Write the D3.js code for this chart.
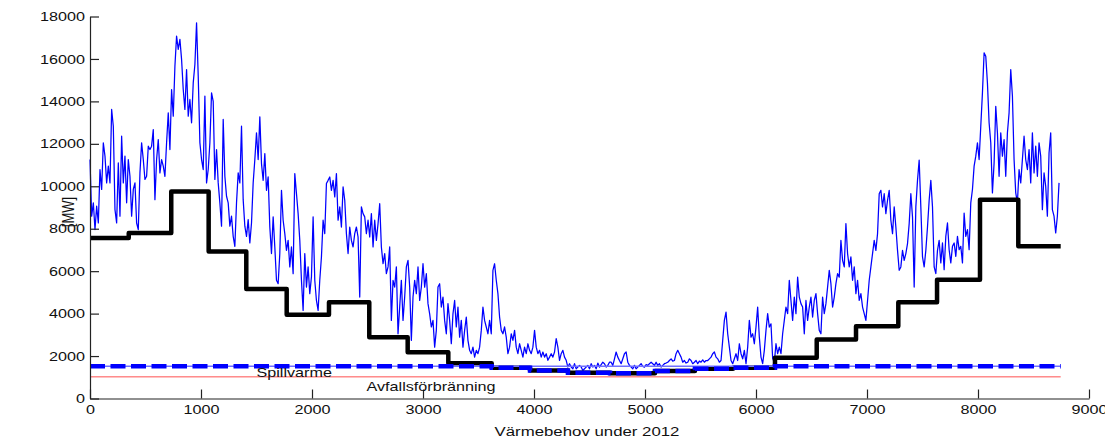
<!DOCTYPE html>
<html>
<head>
<meta charset="utf-8">
<script src="https://cdn.jsdelivr.net/npm/d3@7"></script>
<style>
  html, body { margin: 0; padding: 0; background: #fff; }
  svg { display: block; }
  text { font-family: "Liberation Sans", Arial, Helvetica, sans-serif; fill: #111; }
</style>
</head>
<body>
<svg id="chart" width="1105" height="439"></svg>
<script>
// Heat demand during 2012 [MW], one value every 15 hours from 1 Jan
const demandMW = [
  11260, 8590, 9220, 7960, 9060, 8270, 10790, 9850, 12050, 11420,
  10160, 10950, 10160, 13620, 12830, 8900, 8270, 11100, 8590, 12360,
  10160, 11420, 9220, 11260, 10470, 8590, 9850, 10160, 8270, 7960,
  10630, 12050, 11260, 10320, 10470, 11890, 11730, 11890, 12670, 9370,
  11260, 12200, 10630, 11260, 10950, 10470, 12050, 13460, 11730, 14560,
  13300, 15660, 17080, 16450, 16920, 15980, 14560, 13620, 15500, 13300,
  14090, 12990, 14870, 15740, 17700, 15190, 12050, 11260, 10790, 14250,
  10160, 10790, 12050, 14400, 14000, 10320, 11730, 10160, 9220, 8120,
  13150, 10470, 9530, 9220, 8120, 8590, 7640, 7170, 9220, 10630,
  10160, 12830, 9370, 8120, 7640, 8430, 7330, 8270, 10160, 11260,
  12520, 11260,
  13270, 11070, 10280, 11540, 9810, 10440, 8080, 6830, 8560, 7140,
  5570, 5410, 6830, 9810, 8400, 7770, 6980, 7450, 6200, 7140,
  5880, 10600, 9660, 8710, 7450, 5570, 4150, 6830, 5250, 6200,
  4940, 5730, 8560, 5570, 4620, 4150, 5570, 6670, 8400, 7770,
  10130, 10280, 10440, 9810, 10280, 9500, 10600, 8400, 9030, 8080,
  9970, 9340, 7770, 6830, 8080, 7450, 7140, 7770, 8080, 7610,
  4780, 9030, 8710, 8560, 7770, 8400, 7610, 8710, 7140, 8400,
  7450, 8240, 9180, 7140, 6350, 6830, 5880, 6200, 7140, 3680,
  5570, 5250, 6200, 3050, 4310, 5570, 3680, 4780, 6200, 6510,
  5250, 2740, 4780, 5570, 4940, 6200, 4620, 5250, 6350, 5250,
  5880, 4470, 3990, 3370, 3680, 2420, 3210, 5250, 5410, 4310,
  4780, 3680, 3050, 4470, 3680, 2580, 3990, 4620, 3370, 4310,
  2890, 3680, 2420, 3210, 3840, 2740, 2270, 2110, 2420, 1950,
  2270, 2110, 2420, 3210, 4310, 3680, 3370, 3050, 3680, 3050,
  6040, 6350, 5570, 4940, 3840, 3210, 3050, 3370, 2890, 2110,
  2420, 3050, 2740, 3210, 2420, 2110, 2580, 2270, 1950, 2420,
  2110, 2580, 2270, 2110, 2420, 3210, 2420, 2110, 2270, 1950,
  2190, 1950, 2110, 1800, 1950, 2110, 1950, 2190, 2820, 2420,
  1800, 2110, 2270, 1950, 1800, 1480, 1640, 1480, 1400, 1640,
  1400, 1480, 1560, 1480, 1320, 1400, 1480,
  1560, 1400, 1640, 1480, 1560, 1400, 1670, 1480, 1600, 1710,
  1640, 1480, 1560, 1710, 1710, 1560, 1870, 2190, 1950, 1790,
  1640, 1870, 2110, 2190, 1710, 1560, 1480, 1400, 1560, 1400,
  1480, 1560, 1640, 1510, 1480, 1600, 1560, 1640, 1710, 1640,
  1560, 1710, 1560, 1640, 1480, 1560, 1640, 1670, 1710, 1790,
  1870, 1760, 1790, 2110, 2270, 2110, 1950, 1710, 1790, 1670,
  1710, 1870, 1790, 1640, 1710, 1790, 1640, 1760, 1710, 1820,
  1710, 1790, 1790, 1870, 1950, 2110, 2190, 1950, 1870, 1710,
  1790, 2740, 3680, 4070, 3050, 2420, 1790, 1640, 1870, 2110,
  1790, 2580, 2110, 1870, 2270, 1640, 2420, 3680, 2890, 3050,
  2580, 3365, 4310, 2890, 1950, 1640, 2270, 3210, 4000, 3365,
  3520, 1900, 1700, 2580, 2110, 2420, 2110, 3050, 3680,
  4310, 4000, 5570, 4620, 3680, 4780, 4000, 5720, 4780, 4470,
  4310, 3050, 4620, 3680, 4310, 4780, 3840, 4620, 4940, 4000,
  3210, 3050, 4780, 4000, 4470, 5250, 6040, 5410, 4310, 4780,
  5410, 5880, 5720, 7450, 6510, 6200, 8240, 6830, 6200, 6670,
  5570, 6200, 4940, 5570, 4620, 4940, 4310, 4000, 3680, 4620,
  5570, 6200, 6830, 7450, 6980, 7770, 9650, 9810, 9030, 9650,
  8710, 9340, 9810, 8400, 7770, 9030, 8080, 6980, 6040, 6200,
  6980, 6510, 6830, 7300, 8240, 9650, 8550, 5250, 9030, 10280,
  11230, 9030, 6670, 6200, 6980, 8080, 9340, 10280, 9030, 6200,
  5880, 6980, 7450,
  6390, 7330, 6070, 7640, 8270, 7010, 6390, 7170, 7330, 6700,
  7640, 7010, 7170, 6390, 8740, 7640, 7960, 7010, 9220, 9850,
  10950, 11420, 12050, 11260, 12830, 14400, 16290, 16130, 14870, 12990,
  12050, 9690, 11100, 13770, 12520, 10470, 12520, 11420, 12200, 10470,
  12520, 13460, 15500, 14250, 11260, 9690, 9220, 10790, 10160, 11260,
  12360, 11260, 10790, 11730, 10160, 12520, 10630, 11890, 10470, 12050,
  11420, 8900, 10630, 10000, 8590, 11570, 12520, 8900, 8590, 7800,
  8590, 10160
];
const hoursPerValue = 15;

// Production plan in periods: start hour of each period and its level [MW]
const stepStartHour = [0, 349, 732, 1069, 1408, 1772, 2153, 2516, 2862, 3228, 3619, 3964,
                       4306, 4685, 5090, 5450, 5793, 6171, 6547, 6901, 7282, 7631, 8018, 8363];
const stepEndHour = 8745;
const stepMW = [7560, 7800, 9750, 6930, 5160, 3950, 4540, 2890, 2180, 1660, 1450, 1320,
                1210, 1190, 1290, 1400, 1450, 1920, 2780, 3410, 4540, 5600, 9370, 7170];

// Waste heat (Spillvärme): available capacity and the part used per period
const spillCapacityMW = 1520;
const spillUsedMW = [1520, 1520, 1520, 1520, 1520, 1520, 1520, 1520, 1520, 1520, 1450, 1320,
                     1210, 1190, 1290, 1400, 1450, 1520, 1520, 1520, 1520, 1520, 1520, 1520];

// Waste incineration (Avfallsförbränning) base level
const wasteMW = 1020;

const xTicks = [0, 1000, 2000, 3000, 4000, 5000, 6000, 7000, 8000, 9000];
const yTicks = [0, 2000, 4000, 6000, 8000, 10000, 12000, 14000, 16000, 18000];
const xLabel = "Värmebehov under 2012";
const yLabel = "[MW]";
const spillLabel = "Spillvarme";
const wasteLabel = "Avfallsförbränning";

// ---- drawing ----
const SX = 1.245;          // horizontal text stretch
const svg = d3.select("#chart");
const x = d3.scaleLinear().domain([0, 9000]).range([90, 1089]);
const y = d3.scaleLinear().domain([0, 18000]).range([398.5, 16.5]);

// demand curve
const demandPts = demandMW.map((v, i) => [i * hoursPerValue, v]);
svg.append("path")
  .datum(demandPts)
  .attr("fill", "none")
  .attr("stroke", "#0000ff")
  .attr("stroke-width", 1.25)
  .attr("stroke-linejoin", "round")
  .attr("d", d3.line().x(d => x(d[0])).y(d => y(d[1])));

// production steps
const stepPts = stepStartHour.map((h, i) => [h, stepMW[i]]);
stepPts.push([stepEndHour, stepMW[stepMW.length - 1]]);
svg.append("path")
  .datum(stepPts)
  .attr("fill", "none")
  .attr("stroke", "#000")
  .attr("stroke-width", 4.5)
  .attr("stroke-linejoin", "round")
  .attr("d", d3.line().curve(d3.curveStepAfter).x(d => x(d[0])).y(d => y(d[1])));

// waste heat capacity (thin) and used part (thick dashed)
svg.append("path")
  .datum([[0, spillCapacityMW], [stepEndHour, spillCapacityMW]])
  .attr("fill", "none")
  .attr("stroke", "#7070ff")
  .attr("stroke-width", 1.5)
  .attr("d", d3.line().x(d => x(d[0])).y(d => y(d[1])));

const spillPts = stepStartHour.map((h, i) => [h, spillUsedMW[i]]);
spillPts.push([stepEndHour, spillUsedMW[spillUsedMW.length - 1]]);
svg.append("path")
  .datum(spillPts)
  .attr("fill", "none")
  .attr("stroke", "#0000ff")
  .attr("stroke-width", 4.5)
  .attr("stroke-dasharray", "15,5.5")
  .attr("d", d3.line().curve(d3.curveStepAfter).x(d => x(d[0])).y(d => y(d[1])));

// waste incineration
svg.append("path")
  .datum([[0, wasteMW], [stepEndHour, wasteMW]])
  .attr("fill", "none")
  .attr("stroke", "#ff5050")
  .attr("stroke-width", 1)
  .attr("d", d3.line().x(d => x(d[0])).y(d => y(d[1])));

// axes with inward ticks
const xAxis = svg.append("g")
  .attr("transform", `translate(0,${y(0)})`)
  .call(d3.axisBottom(x).tickValues(xTicks).tickFormat(d3.format("d")).tickSizeInner(-9).tickSizeOuter(0));
const yAxis = svg.append("g")
  .attr("transform", `translate(${x(0)},0)`)
  .call(d3.axisLeft(y).tickValues(yTicks).tickFormat(d3.format("d")).tickSizeInner(-9).tickSizeOuter(0));

[xAxis, yAxis].forEach(g => {
  g.select(".domain").attr("stroke", "#222").attr("stroke-width", 1.2);
  g.selectAll(".tick line").attr("stroke", "#222").attr("stroke-width", 1.2);
  g.selectAll(".tick text").attr("fill", "#111")
    .style("font-family", "'Liberation Sans', Arial, sans-serif")
    .style("font-size", "13px");
});
xAxis.selectAll(".tick text")
  .attr("y", 15.5).attr("dy", null)
  .attr("transform", `scale(${SX},1)`);
yAxis.selectAll(".tick text")
  .attr("x", -5 / SX)
  .attr("transform", `scale(${SX},1)`);

// text labels
function stretchedText(tx, ty, str, anchor, size) {
  return svg.append("text")
    .attr("transform", `translate(${tx},${ty}) scale(${SX},1)`)
    .attr("text-anchor", anchor)
    .style("font-size", size + "px")
    .text(str);
}
stretchedText(587, 435.5, xLabel, "middle", 13.5);
stretchedText(256.5, 376.5, spillLabel, "start", 13);
stretchedText(366.5, 391, wasteLabel, "start", 13);

svg.append("text")
  .attr("transform", `translate(74,212) scale(${SX},1) rotate(-90)`)
  .attr("text-anchor", "middle")
  .style("font-size", "13px")
  .text(yLabel);
</script>
</body>
</html>
